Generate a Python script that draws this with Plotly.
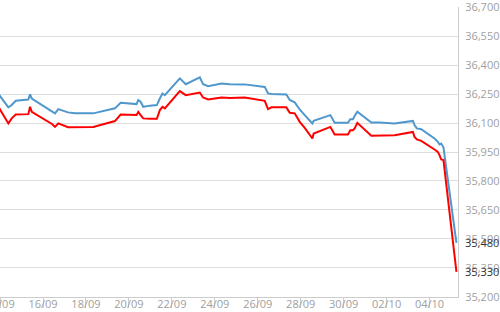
import plotly.graph_objects as go

times = [
    "2017-09-13 20:00", "2017-09-14 09:15", "2017-09-14 13:00", "2017-09-14 17:30",
    "2017-09-15 07:35", "2017-09-15 09:30", "2017-09-15 11:25", "2017-09-16 10:00",
    "2017-09-16 13:25", "2017-09-16 17:05", "2017-09-17 03:55", "2017-09-17 11:40",
    "2017-09-18 08:10", "2017-09-19 08:25", "2017-09-19 14:45", "2017-09-20 08:35",
    "2017-09-20 10:25", "2017-09-20 13:05", "2017-09-20 16:00", "2017-09-20 23:25",
    "2017-09-21 07:15", "2017-09-21 10:35", "2017-09-21 13:35", "2017-09-21 16:10",
    "2017-09-22 08:55", "2017-09-22 15:35", "2017-09-23 07:15", "2017-09-23 10:55",
    "2017-09-23 16:30", "2017-09-24 07:30", "2017-09-24 16:45", "2017-09-25 09:30",
    "2017-09-26 07:50", "2017-09-26 11:30", "2017-09-26 15:20", "2017-09-27 08:00",
    "2017-09-27 11:45", "2017-09-27 17:20", "2017-09-27 22:55", "2017-09-28 04:30",
    "2017-09-28 13:05", "2017-09-28 14:30", "2017-09-29 09:10", "2017-09-29 14:00",
    "2017-09-30 04:50", "2017-09-30 07:30", "2017-09-30 10:25", "2017-09-30 12:20",
    "2017-09-30 15:20", "2017-10-01 06:55", "2017-10-01 16:10", "2017-10-02 08:55",
    "2017-10-03 05:25", "2017-10-03 07:15", "2017-10-03 09:50", "2017-10-03 14:45",
    "2017-10-04 05:35", "2017-10-04 09:15", "2017-10-04 11:10", "2017-10-04 13:05",
    "2017-10-04 15:35", "2017-10-05 06:05",
]

sell = [
    36265, 36181, 36193, 36215, 36222, 36248, 36227, 36160,
    36150, 36172, 36155, 36150, 36150, 36176, 36205, 36198,
    36219, 36210, 36184, 36190, 36193, 36227, 36253, 36244,
    36331, 36301, 36336, 36301, 36291, 36305, 36301, 36300,
    36287, 36253, 36250, 36248, 36219, 36207, 36170, 36141,
    36098, 36111, 36141, 36101, 36101, 36120, 36120, 36136,
    36158, 36103, 36103, 36098, 36111, 36089, 36072, 36068,
    36020, 36003, 35989, 35994, 35974, 35480,
]

buy = [
    36200, 36098, 36124, 36144, 36146, 36184, 36158, 36095,
    36080, 36098, 36078, 36078, 36080, 36110, 36144, 36141,
    36158, 36141, 36124, 36122, 36122, 36167, 36184, 36176,
    36265, 36244, 36258, 36232, 36222, 36232, 36230, 36232,
    36215, 36172, 36181, 36181, 36153, 36150, 36106, 36075,
    36020, 36046, 36080, 36041, 36041, 36063, 36063, 36072,
    36101, 36034, 36035, 36037, 36054, 36028, 36015, 36008,
    35963, 35951, 35934, 35911, 35908, 35330,
]

x_range = ["2017-09-13 23:55", "2017-10-05 07:50"]
y_range = [35199.5, 36700.5]

label_font = dict(family="Open Sans, Arial, sans-serif", size=11, color="#a0a0a0")

fig = go.Figure()
fig.add_trace(go.Scatter(x=times, y=sell, mode="lines",
                         line=dict(color="#4f97cc", width=2), showlegend=False))
fig.add_trace(go.Scatter(x=times, y=buy, mode="lines",
                         line=dict(color="#ff0000", width=2), showlegend=False))

for val in (sell[-1], buy[-1]):
    fig.add_annotation(x=1, xref="paper", y=val, yref="y", xanchor="left",
                       xshift=5, text=f"{val:,}", showarrow=False,
                       font=dict(family="Open Sans, Arial, sans-serif", size=11,
                                 color="#333333"))

fig.update_layout(
    width=500, height=312,
    margin=dict(l=0, r=42, t=7, b=15, autoexpand=False),
    paper_bgcolor="white", plot_bgcolor="white",
    xaxis=dict(range=x_range, type="date", dtick=2 * 86400000,
               tick0="2017-09-14", tickformat="%d/%m", showgrid=False,
               showline=True, linecolor="#cccccc", linewidth=1,
               ticks="outside", ticklen=10, tickcolor="#cccccc",
               ticklabelstandoff=-13, ticklabeloverflow="allow",
               automargin=False, tickfont=label_font, zeroline=False),
    yaxis=dict(range=y_range, side="right", dtick=150, tick0=35200,
               tickformat=",", showgrid=True, gridcolor="#dddddd",
               showline=True, linecolor="#cccccc", linewidth=1,
               ticks="", ticklabelstandoff=4, ticklabeloverflow="allow",
               automargin=False, tickfont=label_font, zeroline=False),
)

fig.write_html("out.html")
